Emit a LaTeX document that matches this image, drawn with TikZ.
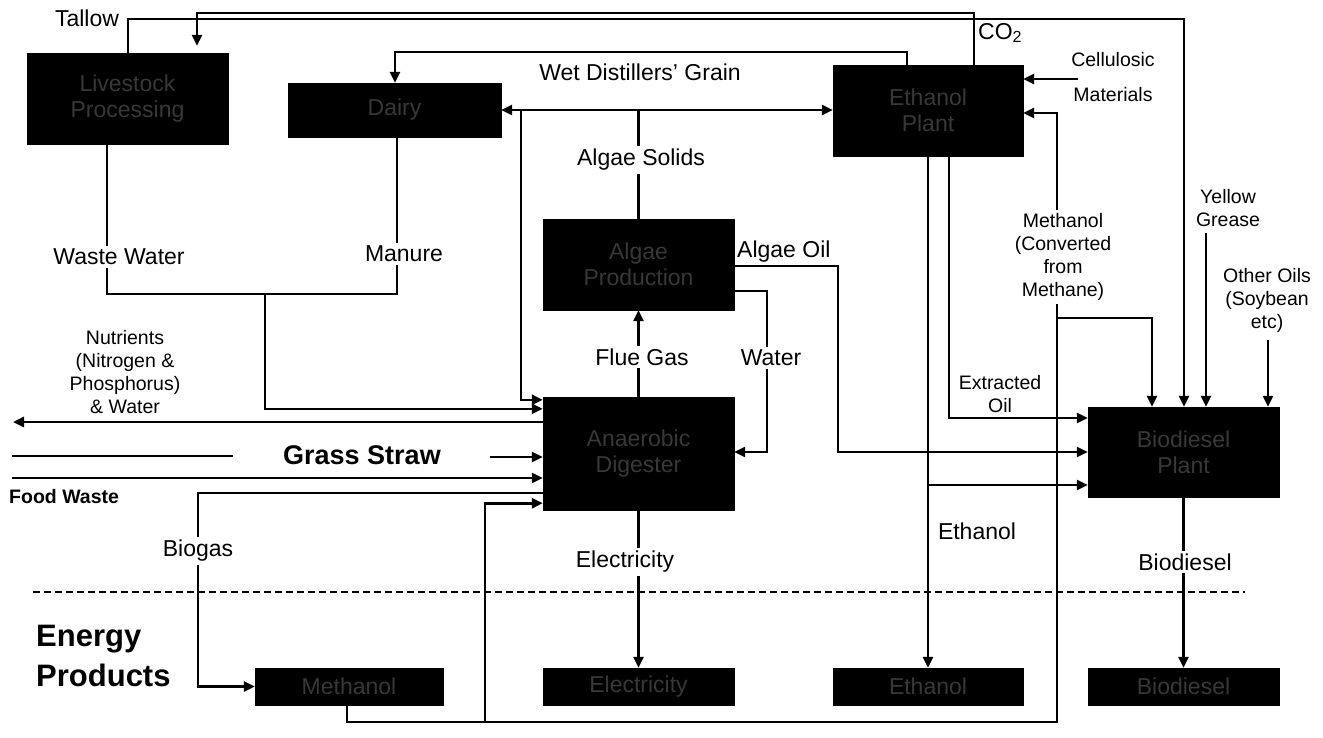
\documentclass[tikz,border=0pt]{standalone}
\usepackage{fontspec}
\setmainfont{Liberation Sans}
\usetikzlibrary{arrows.meta}
\newcommand\mylbl{\fontsize{23}{26}\selectfont}
\newcommand\mysml{\fontsize{19.5}{23}\selectfont}
\tikzset{
 conn/.style={line width=2.6pt, draw=black},
 arr/.style={conn, -{Triangle[length=11pt,width=10pt]}},
 darr/.style={conn, {Triangle[length=11pt,width=10pt]}-{Triangle[length=11pt,width=10pt]}},
 blk/.style={fill=black, draw=black, inner sep=0pt, text=black!78, font=\mylbl, align=center},
 lab/.style={font=\mylbl, inner sep=1pt, align=center},
 lgap/.style={lab, fill=white, inner sep=3pt},
 sml/.style={font=\mysml, align=center, inner sep=1pt},
 sgap/.style={sml, fill=white, inner sep=3pt},
}
\begin{document}
\begin{tikzpicture}[x=1pt,y=-1pt]
\useasboundingbox (0,0) rectangle (1323,737);
% ---------- boxes ----------
\node[blk, minimum width=201pt, minimum height=91pt] (live) at (127.5,98.5) {Livestock\\Processing};
\node[blk, minimum width=213pt, minimum height=54pt] (dairy) at (394.5,110) {Dairy};
\node[blk, minimum width=190pt, minimum height=91pt] (eth) at (928,110.5) {Ethanol\\Plant};
\node[blk, minimum width=191pt, minimum height=91pt] (algae) at (638.5,264.5) {Algae\\Production};
\node[blk, minimum width=191pt, minimum height=113pt] (ad) at (638.5,453.5) {Anaerobic\\Digester};
\node[blk, minimum width=191pt, minimum height=90pt] (bdp) at (1183.5,452) {Biodiesel\\Plant};
\node[blk, minimum width=188pt, minimum height=37pt] (pM) at (349,686.5) {Methanol};
\node[blk, minimum width=191pt, minimum height=37pt] (pE) at (638.5,686.5) {Electricity};
\node[blk, minimum width=190pt, minimum height=37pt] (pEt) at (928,686.5) {Ethanol};
\node[blk, minimum width=191pt, minimum height=37pt] (pB) at (1183.5,686.5) {Biodiesel};
% ---------- coordinates ----------
\coordinate (tal1) at (128,19);
\coordinate (tal2) at (1184,19);
\coordinate (co1) at (974,13);
\coordinate (co2) at (197,13);
\coordinate (w1) at (907,52);
\coordinate (w2) at (395,52);
\coordinate (as) at (638.5,110);
\coordinate (asL) at (521,110);
\coordinate (ww) at (107,294);
\coordinate (mn) at (397,294);
\coordinate (wm) at (265,294);
\coordinate (wa1) at (767,291);
\coordinate (wa2) at (767,452);
\coordinate (ao1) at (838,266);
\coordinate (ao2) at (838,452);
\coordinate (etx) at (928,485);
\coordinate (xo) at (949,418);
\coordinate (m1) at (347,722);
\coordinate (m2) at (1057,722);
\coordinate (m3) at (1057,113);
\coordinate (m4) at (485,722);
\coordinate (m5) at (1057,318);
\coordinate (m6) at (1152,318);
\coordinate (ce) at (1078,79);
\coordinate (yg) at (1206,233);
\coordinate (oo) at (1268,340);
\coordinate (bg1) at (198,493);
\coordinate (nu) at (13,422);
\coordinate (gs1) at (12,456);
\coordinate (gs2) at (233,456);
\coordinate (gs3) at (490,457);
\coordinate (fw) at (12,478);
\coordinate (dl1) at (33,592);
\coordinate (dl2) at (1245,592);
% ---------- connectors ----------
\draw[arr] (live.north -| tal1) -- (tal1) -- (tal2) -- (bdp.north -| tal2);
\draw[arr, shorten >=7pt] (eth.north -| co1) -- (co1) -- (co2) -- (live.north -| co2);
\draw[arr] (eth.north -| w1) -- (w1) -- (w2) -- (dairy.north -| w2);
\draw[conn] (algae.north) -- (as);
\draw[darr] (dairy.east) -- (eth.west |- dairy.east);
\draw[arr] (asL) |- ([yshift=-3pt]ad.north west);
\draw[conn] (live.south -| ww) -- (ww) -- (mn) -- (dairy.south -| mn);
\draw[arr] (wm) |- ([yshift=-12pt]ad.north west);
\draw[arr] (ad.north) -- (algae.south);
\draw[arr] (algae.east |- wa1) -- (wa1) -- (wa2) -- (ad.east |- wa2);
\draw[arr] (algae.east |- ao1) -- (ao1) -- (ao2) -- (bdp.west |- ao2);
\draw[arr] (eth.south -| etx) -- (pEt.north -| etx);
\draw[arr] (etx) -- (bdp.west |- etx);
\draw[arr] (eth.south -| xo) -- (xo) -- (bdp.west |- xo);
\draw[arr] (pM.south -| m1) -- (m1) -- (m2) -- (m3) -- (eth.east |- m3);
\draw[arr] (m4) |- ([yshift=7pt]ad.south west);
\draw[arr] (m5) -- (m6) -- (bdp.north -| m6);
\draw[arr] (ce) -- (eth.east |- ce);
\draw[arr] (yg) -- (bdp.north -| yg);
\draw[arr] (oo) -- (bdp.north -| oo);
\draw[arr] (bdp.south) -- (pB.north);
\draw[arr] (ad.south) -- (pE.north);
\draw[arr] (ad.west |- bg1) -- (bg1) |- (pM.west);
\draw[arr] (ad.west |- nu) -- (nu);
\draw[conn] (gs1) -- (gs2);
\draw[arr] (gs3) -- (ad.west |- gs3);
\draw[arr] (fw) -- (ad.west |- fw);
\draw[line width=1.8pt, dash pattern=on 7pt off 4pt] (dl1) -- (dl2);
% ---------- labels ----------
\node[lab] (tallow) at (87,18) {Tallow};
\node[lab, anchor=west] (co2lab) at (977,33) {CO\textsubscript{2}};
\node[lab] (wdg) at (640,72) {Wet Distillers’ Grain};
\node[lgap] (asol) at (641,160) {Algae Solids};
\node[lgap] (wwl) at (119,257) {Waste Water};
\node[lgap] (mnl) at (404,254) {Manure};
\node[lab, anchor=west] (aol) at (736,252) {Algae Oil};
\node[lgap] (fgl) at (642,357) {Flue Gas};
\node[lgap] (wal) at (771,358) {Water};
\node[sml] (cel1) at (1113,60) {Cellulosic};
\node[sml] (cel2) at (1113,95) {Materials};
\node[sgap] (meth) at (1063,257) {Methanol\\(Converted\\from\\Methane)};
\node[sml] (ygl) at (1228,208) {Yellow\\Grease};
\node[sml] (ool) at (1267,300) {Other Oils\\(Soybean\\etc)};
\node[sml] (xol) at (1000,394) {Extracted\\Oil};
\node[sml] (nul) at (125,372) {Nutrients\\(Nitrogen \&\\Phosphorus)\\\& Water};
\node[font=\fontsize{27}{30}\selectfont\bfseries, inner sep=1pt] (gsl) at (362,455) {Grass Straw};
\node[font=\fontsize{19.5}{22}\selectfont\bfseries, anchor=west, inner sep=1pt] (fwl) at (8,497) {Food Waste};
\node[lgap] (bgl) at (198,551) {Biogas};
\node[lgap] (ell) at (625,562) {Electricity};
\node[lab] (etl) at (977,531) {Ethanol};
\node[lgap] (bdl) at (1185,562) {Biodiesel};
\node[font=\fontsize{31}{40}\selectfont\bfseries, align=left, anchor=north west, inner sep=0pt] (ep) at (36,625) {Energy\\Products};
\end{tikzpicture}
\end{document}
